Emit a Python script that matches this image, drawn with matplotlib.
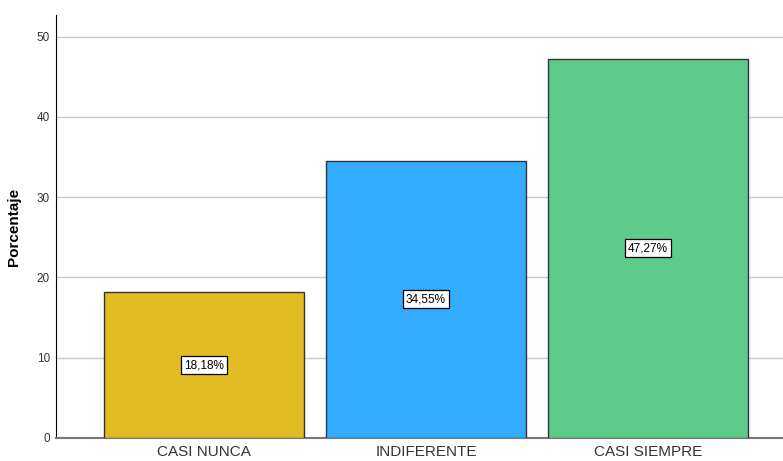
import matplotlib.pyplot as plt

categories = ["CASI NUNCA", "INDIFERENTE", "CASI SIEMPRE"]
values = [18.18, 34.55, 47.27]
labels = ["18,18%", "34,55%", "47,27%"]
colors = ["#E1BC22", "#33ABFF", "#5ECB8B"]

plt.rcParams['font.family'] = ['Liberation Sans', 'DejaVu Sans']

fig = plt.figure(figsize=(7.83, 4.61), dpi=100)
ax = fig.add_axes([0.0709, 0.0499, 0.9291, 0.9176])

x = range(len(categories))
ax.bar(x, values, width=0.9, color=colors, edgecolor="#333333", linewidth=1, zorder=3)

for xi, v, lab in zip(x, values, labels):
    ax.text(xi, v / 2, lab, ha="center", va="center", fontsize=8.5, zorder=4,
            bbox=dict(boxstyle="square,pad=0.25", fc="white", ec="black", lw=0.9))

ax.set_xlim(-0.669, 2.608)
ax.set_ylim(0, 52.7)
ax.set_yticks([0, 10, 20, 30, 40, 50])
ax.set_xticks(list(x))
ax.set_xticklabels(categories, fontsize=11, color="#333333")
ax.tick_params(axis="y", labelsize=8.5, colors="#333333", length=0, pad=4)
ax.tick_params(axis="x", length=0, pad=5)
ax.yaxis.grid(True, color="#C8C8C8", linewidth=1, zorder=0)
ax.set_ylabel("Porcentaje", fontsize=11, fontweight="bold", labelpad=11)

for s in ["top", "right"]:
    ax.spines[s].set_visible(False)
ax.spines["left"].set_color("black")
ax.spines["bottom"].set_color("#777777")
ax.spines["bottom"].set_linewidth(1.5)

fig.savefig("out.png", dpi=100)
